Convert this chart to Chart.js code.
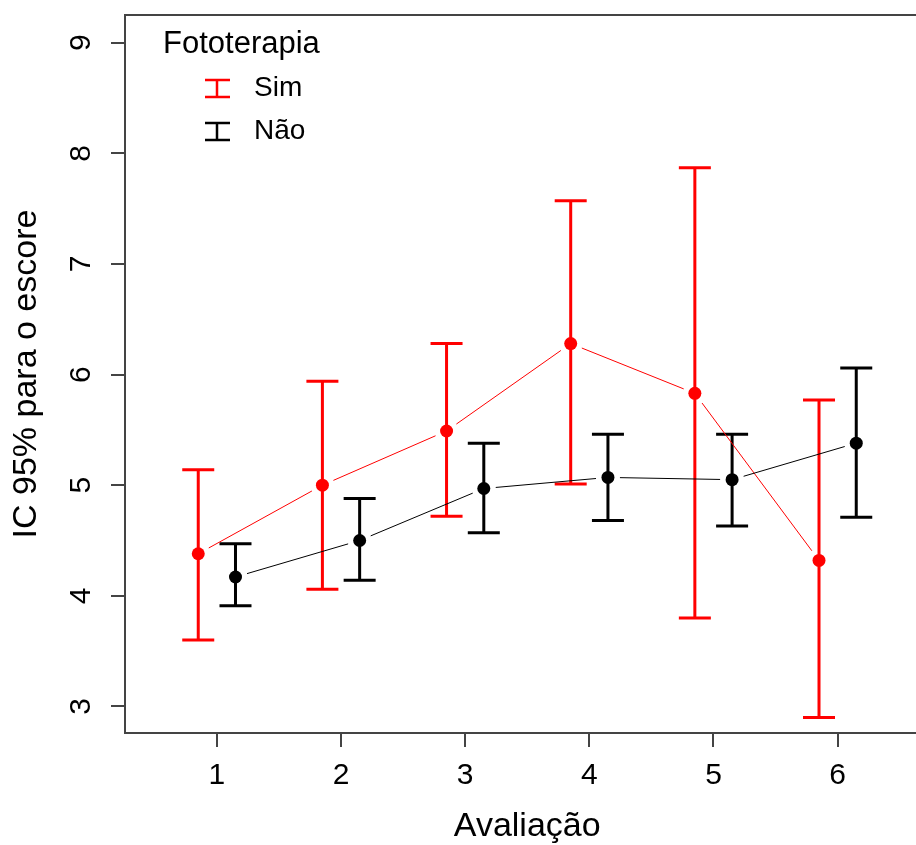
<!DOCTYPE html>
<html>
<head>
<meta charset="utf-8">
<script src="https://cdn.jsdelivr.net/npm/chart.js@4.4.0/dist/chart.umd.min.js"></script>
<style>
  html, body { margin: 0; padding: 0; background: #fff; overflow: hidden; }
  #wrap { width: 916px; height: 845px; position: relative; overflow: hidden; }
  #icChart { position: absolute; left: 0; top: 0; }
</style>
</head>
<body>
<div id="wrap"><canvas id="icChart" width="936" height="845"></canvas></div>
<script>
  // dados
  var avaliacoes = [1, 2, 3, 4, 5, 6];
  var simMedia = [4.38, 5.00, 5.49, 6.28, 5.83, 4.32];
  var simInf   = [3.60, 4.06, 4.72, 5.01, 3.80, 2.90];
  var simSup   = [5.14, 5.94, 6.28, 7.57, 7.87, 5.77];
  var naoMedia = [4.17, 4.50, 4.97, 5.07, 5.05, 5.38];
  var naoInf   = [3.91, 4.14, 4.57, 4.68, 4.63, 4.71];
  var naoSup   = [4.47, 4.88, 5.38, 5.46, 5.46, 6.06];
  var yTicks = [3, 4, 5, 6, 7, 8, 9];
  var grupos = ['Sim', 'Não'];
  var desloc = 0.15;

  var fonte = "'Liberation Sans', Arial, sans-serif";
  var cores = ['#ff0000', '#000000'];

  function pontos(medias, d) {
    return avaliacoes.map(function (a, i) { return { x: a + d, y: medias[i] }; });
  }

  var barras = [
    { inf: simInf, sup: simSup },
    { inf: naoInf, sup: naoSup }
  ];

  // barras de erro + linhas com folga perto dos pontos (type = "b" do R)
  var errorBars = {
    id: 'errorBars',
    beforeDatasetsDraw: function (chart) {
      var ctx = chart.ctx;
      var xs = chart.scales.x, ys = chart.scales.y;
      ctx.save();
      chart.data.datasets.forEach(function (ds, k) {
        ctx.strokeStyle = cores[k];
        ctx.lineWidth = 3;
        ds.data.forEach(function (p, i) {
          var x = xs.getPixelForValue(p.x);
          var y1 = ys.getPixelForValue(barras[k].sup[i]);
          var y2 = ys.getPixelForValue(barras[k].inf[i]);
          ctx.beginPath();
          ctx.moveTo(x, y1); ctx.lineTo(x, y2);
          ctx.moveTo(x - 16, y1); ctx.lineTo(x + 16, y1);
          ctx.moveTo(x - 16, y2); ctx.lineTo(x + 16, y2);
          ctx.stroke();
        });
      });
      chart.data.datasets.forEach(function (ds, k) {
        var pts = chart.getDatasetMeta(k).data;
        ctx.strokeStyle = cores[k];
        ctx.lineWidth = 1;
        ctx.beginPath();
        for (var i = 0; i < pts.length - 1; i++) {
          var a = pts[i], b = pts[i + 1];
          var dx = b.x - a.x, dy = b.y - a.y;
          var len = Math.sqrt(dx * dx + dy * dy);
          var g = 12 / len;
          ctx.moveTo(a.x + dx * g, a.y + dy * g);
          ctx.lineTo(b.x - dx * g, b.y - dy * g);
        }
        ctx.stroke();
      });
      ctx.restore();
    }
  };

  var extras = {
    id: 'extras',
    afterDraw: function (chart) {
      var ctx = chart.ctx;
      var area = chart.chartArea;
      var ys = chart.scales.y;
      ctx.save();
      // caixa: lados de cima e da direita
      ctx.strokeStyle = '#444';
      ctx.lineWidth = 2;
      ctx.beginPath();
      ctx.moveTo(area.left - 1, area.top);
      ctx.lineTo(area.right, area.top);
      ctx.lineTo(area.right, area.bottom);
      ctx.stroke();

      // rotulos do eixo y, girados como no R
      ctx.fillStyle = '#000';
      ctx.font = '30px ' + fonte;
      ctx.textAlign = 'center';
      ctx.textBaseline = 'middle';
      yTicks.forEach(function (v) {
        ctx.save();
        ctx.translate(82, ys.getPixelForValue(v));
        ctx.rotate(-Math.PI / 2);
        ctx.fillText(String(v), 0, 0);
        ctx.restore();
      });

      // legenda
      ctx.textAlign = 'left';
      ctx.font = '31px ' + fonte;
      ctx.fillText('Fototerapia', area.left + 38, area.top + 29);
      ctx.font = '28px ' + fonte;
      grupos.forEach(function (g, k) {
        var yy = area.top + 73 + k * 43;
        var xc = area.left + 92;
        ctx.strokeStyle = cores[k];
        ctx.lineWidth = 2.5;
        ctx.beginPath();
        ctx.moveTo(xc, yy - 8); ctx.lineTo(xc, yy + 9);
        ctx.moveTo(xc - 12, yy - 8); ctx.lineTo(xc + 13, yy - 8);
        ctx.moveTo(xc - 12, yy + 9); ctx.lineTo(xc + 13, yy + 9);
        ctx.stroke();
        ctx.fillStyle = '#000';
        ctx.fillText(g, area.left + 129, yy);
      });
      ctx.restore();
    }
  };

  var ctx = document.getElementById('icChart').getContext('2d');
  var chart = new Chart(ctx, {
    type: 'line',
    data: {
      datasets: [
        {
          label: 'Sim',
          data: pontos(simMedia, -desloc),
          borderColor: cores[0],
          backgroundColor: cores[0],
          showLine: false,
          pointRadius: 6.5,
          pointBorderWidth: 0
        },
        {
          label: 'Não',
          data: pontos(naoMedia, desloc),
          borderColor: cores[1],
          backgroundColor: cores[1],
          showLine: false,
          pointRadius: 6.5,
          pointBorderWidth: 0
        }
      ]
    },
    options: {
      responsive: false,
      animation: false,
      layout: { padding: { top: 15, left: 0, right: 0, bottom: 0 } },
      plugins: {
        legend: { display: false },
        tooltip: { enabled: false }
      },
      scales: {
        x: {
          type: 'linear',
          min: 0.26,
          max: 6.74,
          afterBuildTicks: function (s) { s.ticks = avaliacoes.map(function (v) { return { value: v }; }); },
          afterFit: function (s) { s.height = 112; },
          grid: { drawOnChartArea: false, drawTicks: true, tickLength: 14, color: '#444', lineWidth: 2 },
          border: { display: true, color: '#444', width: 2 },
          ticks: { color: '#000', font: { size: 30, family: fonte }, padding: 11, maxRotation: 0 },
          title: { display: true, text: 'Avaliação', color: '#000', font: { size: 34, family: fonte }, padding: { top: 0, bottom: -2 } }
        },
        y: {
          min: 2.76,
          max: 9.25,
          afterBuildTicks: function (s) { s.ticks = yTicks.map(function (v) { return { value: v }; }); },
          afterFit: function (s) { s.width = 125; },
          grid: { drawOnChartArea: false, drawTicks: true, tickLength: 14, color: '#444', lineWidth: 2 },
          border: { display: true, color: '#444', width: 2 },
          ticks: { display: false },
          title: { display: true, text: 'IC 95% para o escore', color: '#000', font: { size: 34, family: fonte }, padding: { top: 6, bottom: 0 } }
        }
      }
    },
    plugins: [errorBars, extras]
  });
</script>
</body>
</html>
